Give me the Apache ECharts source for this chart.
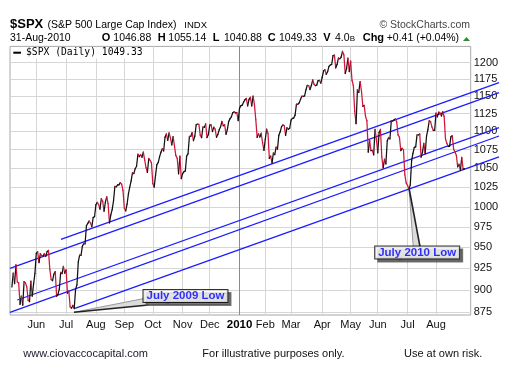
<!DOCTYPE html>
<html><head><meta charset="utf-8">
<script src="https://cdn.jsdelivr.net/npm/echarts@6/dist/echarts.min.js"></script>
<style>html,body{margin:0;padding:0;background:#fff}#c{width:513px;height:379px}</style>
</head><body><div id="c"></div>
<script>
// ---- Daily closes of $SPX, one small array per month (May 5 2009 .. Aug 31 2010)
const may09=[903.47,919.53,907.39,929.23,909.24,908.35,883.92,893.07,882.88,909.71,908.13,903.47,888.33,887.00,910.33,893.06,906.83,919.14];
const jun09=[942.87,944.74,931.76,942.46,940.09,939.14,942.43,939.15,944.89,946.21,923.72,911.97,910.71,918.37,921.23,893.04,895.10,900.94,920.26,918.90,927.23,919.32];
const jul09=[923.33,896.42,898.72,881.03,879.56,882.68,879.13,901.05,905.84,932.68,940.74,940.38,951.13,954.58,954.07,976.29,979.26,982.18,979.62,975.15,986.75,987.48];
const aug09=[1002.63,1005.65,1002.72,997.08,1010.48,1007.10,994.35,1005.81,1012.73,1004.09,979.73,989.67,996.46,1007.37,1026.13,1025.57,1028.00,1028.12,1030.98,1028.93,1020.62];
const sep09=[998.04,994.75,1003.24,1016.40,1025.39,1033.37,1044.14,1042.73,1049.34,1052.63,1068.76,1065.49,1068.30,1064.66,1071.66,1060.87,1050.78,1044.38,1062.98,1060.61,1057.08];
const oct09=[1029.85,1025.21,1040.46,1054.72,1057.58,1065.48,1071.49,1076.19,1073.19,1092.02,1096.56,1087.68,1097.91,1091.06,1081.40,1092.91,1079.60,1066.95,1063.41,1042.63,1066.11,1036.19];
const nov09=[1042.88,1045.41,1046.50,1066.63,1069.30,1093.08,1093.01,1098.51,1087.24,1093.48,1109.30,1110.32,1109.80,1094.90,1091.38,1106.24,1105.65,1110.63,1091.49,1095.63];
const dec09=[1108.86,1109.24,1099.92,1105.98,1103.25,1091.94,1095.95,1102.35,1106.41,1114.11,1107.93,1109.18,1096.08,1102.47,1114.05,1118.02,1120.59,1126.48,1127.78,1126.20,1126.42,1115.10];
const jan10=[1132.99,1136.52,1137.14,1141.69,1144.98,1146.98,1136.22,1145.68,1148.46,1136.03,1150.23,1138.04,1116.48,1091.76,1096.78,1092.17,1097.50,1084.53,1073.87];
const feb10=[1089.19,1103.32,1097.28,1063.11,1066.19,1056.74,1070.52,1068.13,1078.47,1075.51,1094.87,1099.51,1106.75,1109.17,1108.01,1094.60,1105.24,1102.94,1104.49];
const mar10=[1115.71,1118.31,1118.79,1122.97,1138.70,1138.50,1140.45,1145.61,1150.24,1149.99,1150.51,1159.46,1166.21,1165.83,1159.90,1165.81,1174.17,1167.72,1165.73,1166.59,1173.22,1173.27,1169.43];
const apr10=[1178.10,1187.44,1189.44,1182.45,1186.44,1194.37,1196.48,1197.30,1210.65,1211.67,1192.13,1197.52,1207.17,1205.94,1208.67,1217.28,1212.05,1183.71,1191.36,1206.78,1186.69];
const may10=[1202.26,1173.60,1165.87,1128.15,1110.88,1159.73,1155.79,1171.67,1157.44,1135.68,1136.94,1120.80,1115.05,1071.59,1087.69,1073.65,1074.03,1067.95,1103.06,1089.41];
const jun10=[1070.71,1098.38,1102.83,1064.88,1050.47,1062.00,1055.69,1086.84,1091.60,1089.63,1115.23,1114.61,1116.04,1117.51,1113.20,1095.31,1092.04,1073.69,1076.76,1074.57,1041.24,1030.71];
const jul10=[1027.37,1022.58,1028.06,1060.27,1070.25,1077.96,1078.75,1095.34,1095.17,1096.48,1064.88,1071.25,1083.48,1069.59,1093.67,1102.66,1115.01,1113.84,1106.13,1101.53,1101.60];
const aug10=[1125.86,1120.46,1127.24,1125.81,1121.64,1127.79,1121.06,1089.47,1083.61,1079.25,1079.38,1092.54,1094.16,1075.63,1071.69,1067.36,1051.87,1055.33,1047.22,1064.59,1048.92,1049.33];

const months=[may09,jun09,jul09,aug09,sep09,oct09,nov09,dec09,jan10,feb10,mar10,apr10,may10,jun10,jul10,aug10];
// tick labels for the month starts (Jun 2009 .. Aug 2010)
const monthLabels=['Jun','Jul','Aug','Sep','Oct','Nov','Dec','2010','Feb','Mar','Apr','May','Jun','Jul','Aug'];
const firstDay=-18;          // trading-day number of the first close (Jun 1 2009 = 0)
const xRange=[-19.4,320.6];  // trading-day range of the plot
const yTicks=[875,900,925,950,975,1000,1025,1050,1075,1100,1125,1150,1175,1200];
const yRange=[872,1225];

// trend channel lines: [trading day, price]
const channels=[
  [[18.2,959.7],[341.5,1170.0]],
  [[-19.4,925.1],[341.5,1155.3]],
  [[-14.0,888.7],[341.5,1105.3]],
  [[-19.4,875.0],[341.5,1093.7]],
  [[28,879.13],[341.5,1065.1]]
];
// callouts: label anchor and pointer wedge (tip, base1, base2)
const callouts=[
  {name:'July 2009 Low', at:[110.1,893.3], wedge:[[27.8,875.0],[80.2,890.6],[82.7,883.1]]},
  {name:'July 2010 Low', at:[281.1,943.8], wedge:[[275.1,1023.4],[278.2,950.7],[283.2,950.7]]}
];

const UP='#111111', DOWN='#d0143a', BLUE='#1c1cff';
const L=Math.log;
const closes=[].concat(...months);
const segs=[];
for(let i=1;i<closes.length;i++){
  segs.push([firstDay+i-1,L(closes[i-1]),firstDay+i,L(closes[i]),closes[i]-closes[i-1]]);
}
const monthStarts=[]; {let acc=firstDay; months.forEach((m,i)=>{ if(i>0) monthStarts.push(acc); acc+=m.length; });}

const F="'Liberation Sans', Arial, sans-serif";
function txt(x,y,text,font,fill,align){
  return {type:'text',x:x,y:y,z:10,silent:true,style:{text:text,font:font,fill:fill||'#000',align:align||'left',verticalAlign:'middle'}};
}
const graphics=[
  txt(10,24.8,'$SPX','bold 13px '+F),
  txt(47.5,25.2,'(S&P 500 Large Cap Index)','10.5px '+F),
  txt(184.3,25.4,'INDX','9.5px '+F),
  txt(470,25.6,'\u00A9 StockCharts.com','10.5px '+F,'#444','right'),
  txt(10,38.3,'31-Aug-2010','10.5px '+F),
  txt(101.7,38.3,'O','bold 11px '+F), txt(113.3,38.3,'1046.88','10.5px '+F),
  txt(157.7,38.3,'H','bold 11px '+F), txt(168.3,38.3,'1055.14','10.5px '+F),
  txt(212.7,38.3,'L','bold 11px '+F), txt(224,38.3,'1040.88','10.5px '+F),
  txt(267.7,38.3,'C','bold 11px '+F), txt(279,38.3,'1049.33','10.5px '+F),
  txt(323.3,38.3,'V','bold 11px '+F), txt(335,38.3,'4.0','10.5px '+F), txt(349.8,38.8,'B','8px '+F),
  txt(362.7,38.3,'Chg','bold 11px '+F), txt(386.7,38.3,'+0.41 (+0.04%)','10.5px '+F),
  {type:'polygon',z:10,silent:true,shape:{points:[[463,41],[470,41],[466.5,37]]},style:{fill:'#2e8b2e'}},
  {type:'rect',z:9,silent:true,shape:{x:11,y:47.5,width:136,height:11},style:{fill:'#fff'}},
  {type:'line',z:10,silent:true,shape:{x1:13.3,y1:52.7,x2:21,y2:52.7},style:{stroke:'#000',lineWidth:2}},
  txt(26,52.4,'$SPX (Daily) 1049.33',"9.7px 'DejaVu Sans Mono', monospace"),
  txt(23.3,354,'www.ciovaccocapital.com','11px '+F,'#1a1a2a'),
  txt(202.3,354,'For illustrative purposes only.','11px '+F,'#111'),
  txt(404,354,'Use at own risk.','11px '+F,'#111')
];

const series=[];
// channel lines (drawn past the plot's right edge, over the price labels)
series.push({type:'custom',z:3,clip:false,silent:true,encode:{x:[0,2],y:[1,3]},
  data:channels.map(c=>[c[0][0],L(c[0][1]),c[1][0],L(c[1][1])]),
  renderItem:function(params,api){
    const a=api.coord([api.value(0),api.value(1)]);
    const b=api.coord([api.value(2),api.value(3)]);
    return {type:'line',shape:{x1:a[0],y1:a[1],x2:b[0],y2:b[1]},style:{stroke:BLUE,lineWidth:1.3}};
  }});
series.push({type:'custom',z:4,clip:true,silent:true,encode:{x:[0,2],y:[1,3]},data:segs,
  renderItem:function(params,api){
    const a=api.coord([api.value(0),api.value(1)]);
    const b=api.coord([api.value(2),api.value(3)]);
    return {type:'line',shape:{x1:a[0],y1:a[1],x2:b[0],y2:b[1]},
      style:{stroke:api.value(4)>=0?UP:DOWN,lineWidth:1.25,lineCap:'round'}};
  }});
series.push({type:'custom',z:5,clip:false,silent:true,encode:{x:[0,2,4],y:[1,3,5]},
  data:callouts.map(c=>[c.wedge[0][0],L(c.wedge[0][1]),c.wedge[1][0],L(c.wedge[1][1]),c.wedge[2][0],L(c.wedge[2][1])]),
  renderItem:function(params,api){
    const t=api.coord([api.value(0),api.value(1)]);
    const p=api.coord([api.value(2),api.value(3)]);
    const q=api.coord([api.value(4),api.value(5)]);
    return {type:'group',children:[
      {type:'polygon',shape:{points:[t,p,q]},style:{fill:'#dcdcdc',stroke:null}},
      {type:'line',shape:{x1:t[0],y1:t[1],x2:p[0],y2:p[1]},style:{stroke:'#9a9a9a',lineWidth:1}},
      {type:'line',shape:{x1:t[0],y1:t[1],x2:q[0],y2:q[1]},style:{stroke:'#222',lineWidth:1.6}}
    ]};
  }});
const boxLabel={show:true,position:'inside',formatter:'{b}',fontWeight:'bold',fontSize:11.5,
    fontFamily:F,borderWidth:1,padding:[1,3,0,3],lineHeight:11};
// drop shadow of the callout boxes
series.push({type:'scatter',z:6,silent:true,symbolSize:0,itemStyle:{color:'rgba(0,0,0,0)'},
  data:callouts.map(c=>({name:c.name,value:[c.at[0],L(c.at[1])]})),
  label:Object.assign({},boxLabel,{color:'#555',backgroundColor:'#555',borderColor:'#555',offset:[3,3]})});
// callout boxes
series.push({type:'scatter',z:7,silent:true,symbolSize:0,itemStyle:{color:'rgba(0,0,0,0)'},
  data:callouts.map(c=>({name:c.name,value:[c.at[0],L(c.at[1])]})),
  label:Object.assign({},boxLabel,{color:'#0000ff',backgroundColor:'#fff',borderColor:'#000'})});

const chart=echarts.init(document.getElementById('c'),null,{renderer:'canvas'});
chart.setOption({
  animation:false,
  backgroundColor:'#fff',
  textStyle:{fontFamily:F},
  grid:{left:10,right:42.3,top:46.4,bottom:64,show:true,borderColor:'#a8a8a8',borderWidth:1,backgroundColor:'#fff'},
  xAxis:{type:'value',min:xRange[0],max:xRange[1],
    axisLine:{show:false},
    axisTick:{show:false,customValues:monthStarts},
    axisLabel:{customValues:monthStarts,margin:4,color:'#111',fontSize:11,fontFamily:F,
      formatter:function(v){const k=monthStarts.indexOf(Math.round(v)); const n=monthLabels[k]; return n==='2010'?'{b|2010}':n;},
      rich:{b:{fontWeight:'bold',fontSize:11.5,color:'#000',fontFamily:F}}},
    splitLine:{show:true,lineStyle:{color:monthLabels.map(n=>n==='2010'?'#8c8c8c':'#d6d6d6'),width:1}}
  },
  yAxis:{type:'value',position:'right',min:L(yRange[0]),max:L(yRange[1]),
    axisLine:{show:false},
    axisTick:{show:false,customValues:yTicks.map(L)},
    axisLabel:{customValues:yTicks.map(L),margin:3,color:'#111',fontSize:11,fontFamily:F,
      formatter:function(v){return String(Math.round(Math.exp(v)));}},
    splitLine:{show:true,lineStyle:{color:'#d6d6d6',width:1}}
  },
  graphic:graphics,
  series:series
});
</script></body></html>
